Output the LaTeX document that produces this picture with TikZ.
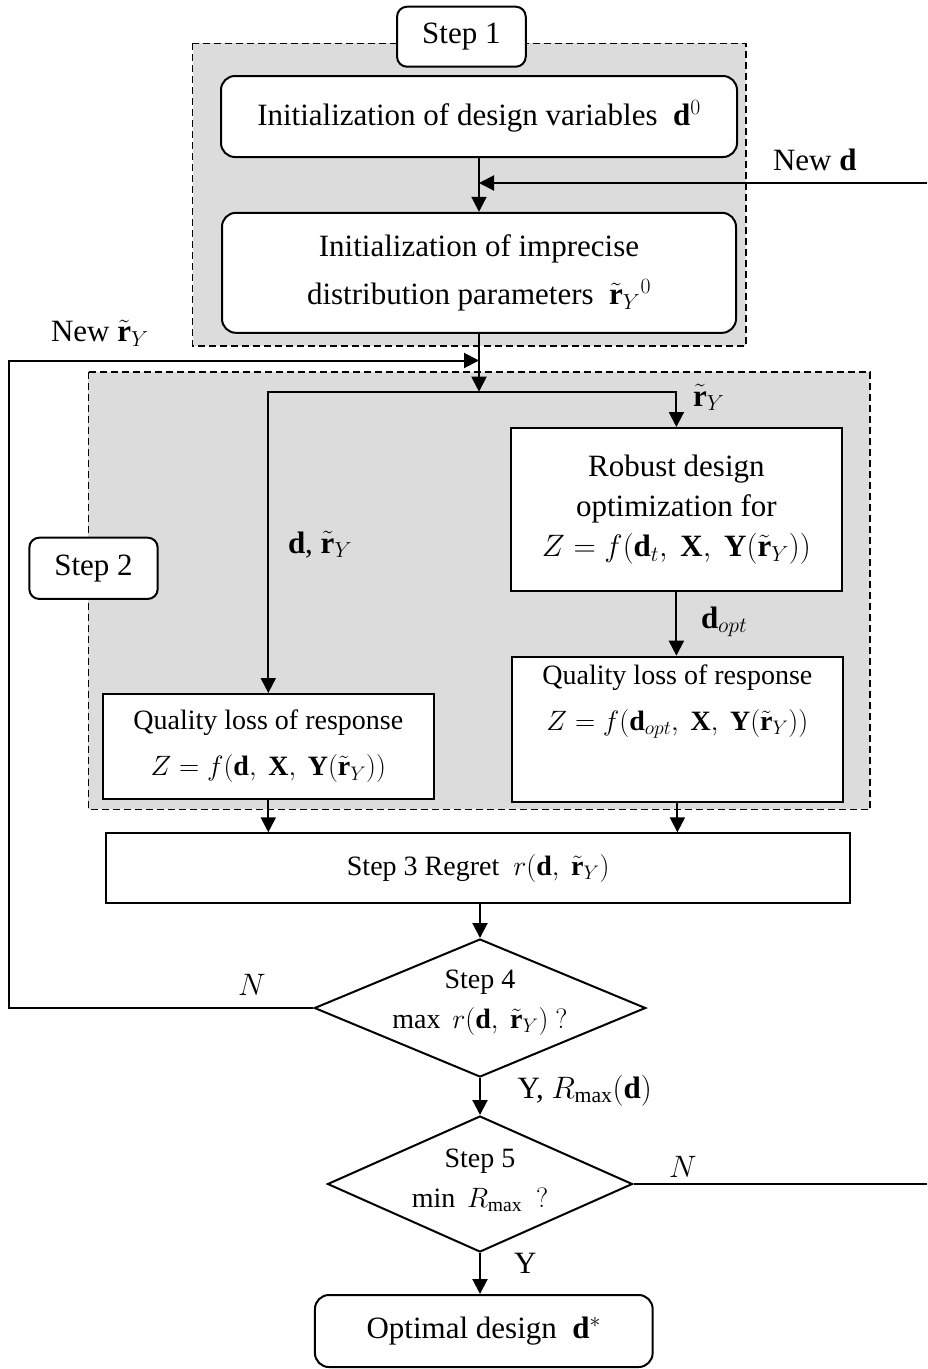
\RequirePackage{fix-cm}
\documentclass[tikz,border=0pt]{standalone}
\usepackage{fontspec}
\setmainfont{Liberation Serif}
\usetikzlibrary{shapes.geometric,arrows.meta}
\definecolor{stepgray}{RGB}{220,220,220}

\begin{document}
\begin{tikzpicture}[x=1pt,y=-1pt,line width=2pt,
  arr/.style={-{Triangle[length=15pt,width=15pt]}},
  rbox/.style={draw,fill=white,rounded corners=14pt,align=center,inner sep=0pt},
  pbox/.style={draw,fill=white,align=center,inner sep=0pt},
  decision/.style={draw,fill=white,diamond,inner sep=0pt},
  steparea/.style={draw,fill=stepgray,dash pattern=on 7pt off 4pt,line width=1.6pt},
  txtbig/.style={font=\fontsize{31}{38}\selectfont},
  txtsmall/.style={font=\fontsize{28}{40}\selectfont},
  lbl/.style={anchor=base west,inner sep=0pt,txtbig}]
  \useasboundingbox (0,0) rectangle (927,1369);
  \draw[steparea] (192.5,43.3) rectangle (746,345.7);
  \draw[steparea] (88.3,371.7) rectangle (870,809.3);
  \node[rbox,txtbig,rounded corners=10pt,minimum width=128.7,minimum height=60] (st1) at (461.4,36.7) {Step 1};
  \node[rbox,txtbig,minimum width=516,minimum height=81] (initd) at (479,116.5) {Initialization of design variables\ \ $\mathbf{d}^0$};
  \node[rbox,font=\fontsize{31}{48}\selectfont,minimum width=514,minimum height=120] (initr) at (479,272.8)
    {Initialization of imprecise\\distribution parameters\ \ $\tilde{\mathbf{r}}_Y{}^0$};
  \node[rbox,txtbig,rounded corners=10pt,minimum width=128.4,minimum height=61.3] (st2) at (93.5,568.3) {Step 2};
  \node[pbox,font=\fontsize{31}{40}\selectfont,minimum width=331.3,minimum height=163] (rob) at (676.4,509.5)
    {Robust design\\optimization for\\$Z=f(\mathbf{d}_t,\ \mathbf{X},\ \mathbf{Y}(\tilde{\mathbf{r}}_Y))$};
  \node[pbox,font=\fontsize{28}{46}\selectfont,minimum width=330.6,minimum height=105] (qll) at (268.3,746.5)
    {Quality loss of response\\$Z=f(\mathbf{d},\ \mathbf{X},\ \mathbf{Y}(\tilde{\mathbf{r}}_Y))$};
  \node[pbox,minimum width=330.8,minimum height=145] (qlr) at (677.4,729.2) {};
  \node[align=center,anchor=north,inner sep=0pt,font=\fontsize{28}{46}\selectfont] (qlrtxt) at ([yshift=-8pt]qlr.north)
    {Quality loss of response\\$Z=f(\mathbf{d}_{opt},\ \mathbf{X},\ \mathbf{Y}(\tilde{\mathbf{r}}_Y))$};
  \node[pbox,txtsmall,minimum width=743.5,minimum height=70] (st3) at (478.2,868.3) {Step 3 Regret\ \ $r(\mathbf{d},\ \tilde{\mathbf{r}}_Y)$};
  \node[decision,minimum width=331.3,minimum height=138] (s4) at (480,1008) {};
  \node[align=center,txtsmall] (s4txt) at (480,1003) {Step 4\\$\max\ r(\mathbf{d},\ \tilde{\mathbf{r}}_Y)\ ?$};
  \node[decision,minimum width=305,minimum height=136] (s5) at (480,1184) {};
  \node[align=center,txtsmall] (s5txt) at (480,1180) {Step 5\\$\min\ R_{\max}\ \ ?$};
  \node[rbox,txtbig,minimum width=337.7,minimum height=72] (opt) at (483.8,1331) {Optimal design\ \ $\mathbf{d}^*$};
  \node[lbl] (newdlbl) at (772,170) {New $\mathbf{d}$};
  \node[lbl] (newrlbl) at (50,341.7) {New $\tilde{\mathbf{r}}_Y$};
  \node[lbl] (rylbl) at (692,406) {$\tilde{\mathbf{r}}_Y$};
  \node[lbl] (drlbl) at (287,553) {$\mathbf{d}$, $\tilde{\mathbf{r}}_Y$};
  \node[lbl] (doptlbl) at (700,628) {$\mathbf{d}_{opt}$};
  \node[lbl] (nleft) at (237,995) {$N$};
  \node[lbl] (ylbl) at (516.7,1098) {Y, $R_{\max}(\mathbf{d})$};
  \node[lbl] (nright) at (668,1177) {$N$};
  \node[lbl] (yes) at (513,1273) {Y};
  \coordinate (newd) at (927,183);
  \coordinate (br) at (479,391.7);
  \coordinate (fb) at (9.3,360.5);
  \coordinate (rn) at (927,1184);
  \draw[arr] (initd) -- (initr);
  \draw[arr] (newd) -- (initd.south |- newd);
  \draw[arr] (initr.south) -- (br);
  \draw[arr] (s4.west) -| (fb) -- (initr.south |- fb);
  \draw[arr] (br) -| (rob.north);
  \draw[arr] (br) -| (qll.north);
  \draw[arr] (rob.south) -- (rob.south |- qlr.north);
  \draw[arr] (qll.south) -- (qll.south |- st3.north);
  \draw[arr] (qlr.south) -- (qlr.south |- st3.north);
  \draw[arr] (st3.south -| s4.north) -- (s4.north);
  \draw[arr] (s4.south) -- (s5.north);
  \draw[arr] (s5.south) -- (s5.south |- opt.north);
  \draw (s5.east) -- (rn);
\end{tikzpicture}
\end{document}
